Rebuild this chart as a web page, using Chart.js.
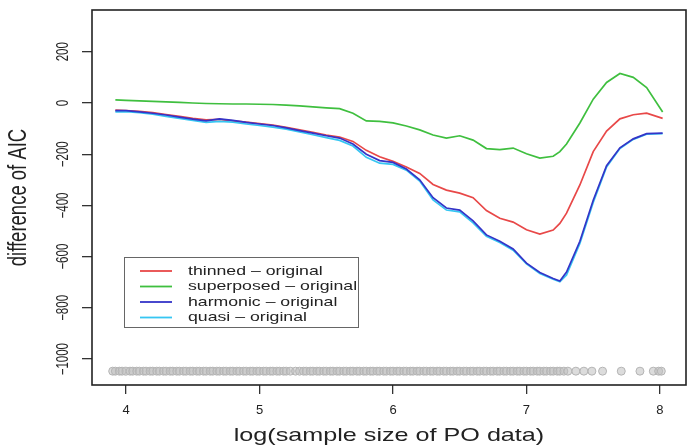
<!DOCTYPE html>
<html>
<head>
<meta charset="utf-8">
<script src="https://cdn.jsdelivr.net/npm/chart.js@4.4.1/dist/chart.umd.min.js"></script>
<style>
  html, body { margin: 0; padding: 0; background: #fff; }
  #wrap { position: relative; width: 692px; height: 447px; }
</style>
</head>
<body>
<div id="wrap"><canvas id="aicChart"></canvas></div>
<script>
// log(sample size) grid shared by the four curves
const logSize = [3.92, 4.0, 4.1, 4.2, 4.3, 4.4, 4.5, 4.6, 4.7, 4.8, 4.9, 5.0, 5.1, 5.2, 5.3, 5.4, 5.5, 5.6, 5.7, 5.8, 5.9,
    6.0, 6.1, 6.2, 6.3, 6.4, 6.5, 6.6, 6.7, 6.8, 6.9, 7.0, 7.1, 7.2, 7.25, 7.3, 7.4, 7.5, 7.6, 7.7, 7.8, 7.9, 8.02];

const thinned = [-28, -30, -33, -38, -45, -52, -60, -66, -64, -70, -75, -80, -86, -95, -105, -115, -125, -133, -150, -185, -210,
    -228, -250, -275, -318, -340, -352, -370, -420, -450, -465, -495, -512, -496, -470, -430, -320, -190, -110, -62, -46, -40, -60];
const superposed = [12, 10, 8, 6, 4, 2, 0, -2, -3, -4, -4, -5, -6, -8, -11, -15, -19, -22, -40, -70, -72,
    -78, -90, -105, -125, -137, -128, -145, -178, -182, -176, -198, -215, -208, -190, -160, -78, 15, 80, 115, 100, 60, -35];
const harmonic = [-30, -30, -35, -40, -47, -55, -63, -70, -62, -68, -76, -82, -88, -97, -108, -118, -128, -137, -160, -200, -225,
    -232, -258, -300, -370, -410, -418, -460, -515, -540, -570, -625, -662, -685, -695, -660, -540, -380, -245, -175, -140, -120, -118];
const quasi = [-35, -34, -38, -44, -52, -60, -68, -76, -72, -75, -82, -88, -94, -102, -113, -124, -135, -146, -168, -212, -235,
    -240, -262, -305, -378, -418, -425, -468, -520, -545, -575, -628, -666, -688, -698, -672, -548, -388, -250, -178, -142, -122, -120];

// rug of observed sample sizes along the bottom
const rugX = [3.90, 3.92, 3.95, 3.97, 4.00, 4.03, 4.05, 4.08, 4.10, 4.13, 4.15, 4.18, 4.20, 4.23, 4.25, 4.28, 4.30, 4.33,
    4.35, 4.38, 4.40, 4.43, 4.45, 4.48, 4.50, 4.53, 4.55, 4.58, 4.60, 4.63, 4.65, 4.68, 4.70, 4.73, 4.75, 4.78, 4.80,
    4.83, 4.85, 4.88, 4.90, 4.93, 4.95, 4.98, 5.00, 5.03, 5.05, 5.08, 5.10, 5.13, 5.15, 5.18, 5.20, 5.23, 5.27, 5.30,
    5.33, 5.35, 5.38, 5.40, 5.43, 5.45, 5.48, 5.50, 5.53, 5.55, 5.58, 5.60, 5.63, 5.65, 5.68, 5.70, 5.73, 5.75, 5.78,
    5.80, 5.83, 5.85, 5.88, 5.90, 5.93, 5.95, 5.98, 6.00, 6.03, 6.05, 6.08, 6.10, 6.13, 6.15, 6.18, 6.20, 6.23, 6.25,
    6.28, 6.30, 6.33, 6.35, 6.38, 6.40, 6.43, 6.45, 6.48, 6.50, 6.53, 6.55, 6.58, 6.60, 6.63, 6.65, 6.68, 6.70, 6.73,
    6.75, 6.78, 6.80, 6.83, 6.85, 6.88, 6.90, 6.93, 6.95, 6.98, 7.00, 7.03, 7.05, 7.08, 7.10, 7.13, 7.15, 7.18, 7.20,
    7.23, 7.25, 7.28, 7.31, 7.37, 7.43, 7.49, 7.57, 7.71, 7.85, 7.95, 7.99, 8.01];
const rugLevel = -1047;

const seriesLabels = ['thinned \u2013 original', 'superposed \u2013 original', 'harmonic \u2013 original', 'quasi \u2013 original'];
const seriesColors = ['#e84848', '#3fbf3f', '#3434c8', '#36c6f2'];
const xTickValues = [4, 5, 6, 7, 8];
const yTickValues = [-1000, -800, -600, -400, -200, 0, 200];

const FONT = "'Liberation Sans', Arial, Helvetica, sans-serif";
const STRETCH = 1.36;

function pairUp(values) {
    return logSize.map((x, i) => ({ x: x, y: values[i] }));
}

// text drawn a little wide, like the exported figure
function wideText(ctx, text, x, y, size, align, angle) {
    ctx.save();
    ctx.translate(x, y);
    ctx.scale(STRETCH, 1);
    if (angle) ctx.rotate(angle);
    ctx.font = size + 'px ' + FONT;
    ctx.fillStyle = '#222';
    ctx.textAlign = align;
    ctx.textBaseline = 'middle';
    ctx.fillText(text, 0, 0);
    ctx.restore();
}

const framePlugin = {
    id: 'frame',
    afterDraw(chart) {
        const ctx = chart.ctx;
        const area = chart.chartArea;
        const yScale = chart.scales.y;

        ctx.save();
        ctx.strokeStyle = '#222';
        ctx.lineWidth = 1.6;
        ctx.strokeRect(area.left, area.top, area.right - area.left, area.bottom - area.top);
        ctx.restore();

        // vertical tick labels on the y axis
        yScale.ticks.forEach(t => {
            const py = yScale.getPixelForValue(t.value);
            wideText(ctx, String(t.value).replace('-', '\u2212'), 64, py, 11.5, 'center', -Math.PI / 2);
        });

        wideText(ctx, 'difference of AIC', 19, (area.top + area.bottom) / 2, 18.5, 'center', -Math.PI / 2);
        wideText(ctx, 'log(sample size of PO data)', (area.left + area.right) / 2, 436, 18.5, 'center', 0);

        // legend box
        const lx = 124, ly = 257, lw = 234, lh = 70;
        ctx.save();
        ctx.strokeStyle = '#666';
        ctx.lineWidth = 1;
        ctx.strokeRect(lx + 0.5, ly + 0.5, lw, lh);
        ctx.restore();
        seriesLabels.forEach((label, i) => {
            const rowY = 271 + i * 15.5;
            ctx.save();
            ctx.strokeStyle = seriesColors[i];
            ctx.lineWidth = 1.8;
            ctx.beginPath();
            ctx.moveTo(140, rowY);
            ctx.lineTo(172, rowY);
            ctx.stroke();
            ctx.restore();
            wideText(ctx, label, 188, rowY, 13, 'left', 0);
        });
    }
};

const curveSets = [thinned, superposed, harmonic, quasi].map((values, i) => ({
    type: 'line',
    label: seriesLabels[i],
    data: pairUp(values),
    borderColor: seriesColors[i],
    backgroundColor: seriesColors[i],
    borderWidth: 1.7,
    pointRadius: 0,
    tension: 0,
    fill: false
}));

// harmonic sits just under quasi; thinned and superposed on top
const datasets = [
    {
        type: 'scatter',
        label: 'rug',
        data: rugX.map(x => ({ x: x, y: rugLevel })),
        pointRadius: 4,
        pointBorderWidth: 1,
        borderColor: '#b4b4b4',
        backgroundColor: 'rgba(192,192,192,0.55)'
    },
    curveSets[2], curveSets[3], curveSets[0], curveSets[1]
];

new Chart(document.getElementById('aicChart'), {
    data: { datasets: datasets },
    options: {
        responsive: true,
        maintainAspectRatio: false,
        animation: false,
        events: [],
        layout: { padding: { left: 0, right: 6, top: 10, bottom: 0 } },
        plugins: {
            legend: { display: false },
            tooltip: { enabled: false }
        },
        scales: {
            x: {
                type: 'linear',
                min: 3.745,
                max: 8.195,
                afterBuildTicks: scale => { scale.ticks = xTickValues.map(v => ({ value: v })); },
                afterFit: scale => { scale.height = 62; },
                grid: { drawOnChartArea: false, drawTicks: true, tickLength: 9, color: '#333', lineWidth: 1.3 },
                border: { display: false },
                ticks: {
                    color: '#222',
                    padding: 9,
                    maxRotation: 0,
                    font: { family: FONT, size: 13 },
                    callback: v => String(v)
                }
            },
            y: {
                type: 'linear',
                min: -1101,
                max: 363,
                afterBuildTicks: scale => { scale.ticks = yTickValues.map(v => ({ value: v })); },
                afterFit: scale => { scale.width = 92; },
                grid: { drawOnChartArea: false, drawTicks: true, tickLength: 10, color: '#333', lineWidth: 1.3 },
                border: { display: false },
                ticks: { display: false }
            }
        }
    },
    plugins: [framePlugin]
});
</script>
</body>
</html>
